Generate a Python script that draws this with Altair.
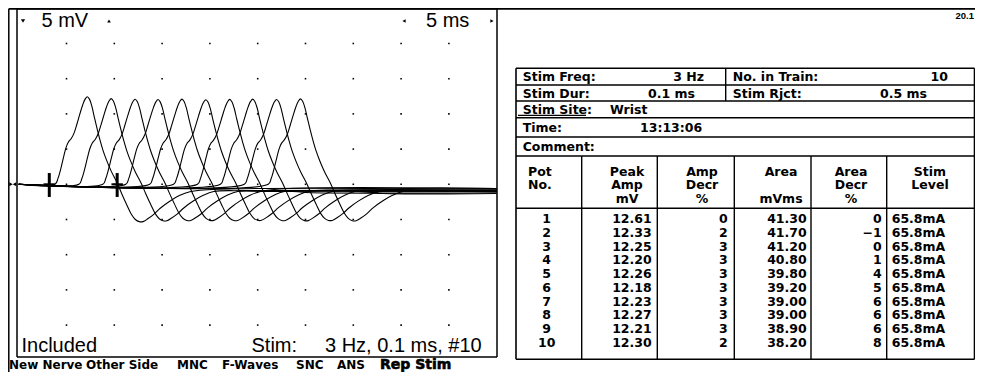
import altair as alt
import pandas as pd

# ---------------- data ----------------
pot_no = [1, 2, 3, 4, 5, 6, 7, 8, 9, 10]
peak_amp = [12.61, 12.33, 12.25, 12.20, 12.26, 12.18, 12.23, 12.27, 12.21, 12.30]
amp_decr = [0, 2, 3, 3, 3, 3, 3, 3, 3, 2]
area = [41.30, 41.70, 41.20, 40.80, 39.80, 39.20, 39.00, 39.00, 38.90, 38.20]
area_decr = [0, -1, 0, 1, 4, 5, 6, 6, 6, 8]
stim_level = ["65.8mA"] * 10

# CMAP shape (ms after onset, mV)
tmpl_t = [0, 0.3, 0.6, 0.9, 1.15, 1.4, 1.7, 2.0, 2.3, 2.6, 2.9, 3.15, 3.38, 3.6, 3.85,
          4.1, 4.4, 4.7, 5.0, 5.4, 5.9, 6.5, 7.0, 7.5, 8.0, 8.4, 8.8, 9.2, 9.7, 10.3,
          11.0, 12.0, 13.0, 14.1]
tmpl_v = [0, 0.8, 2.2, 3.9, 5.2, 6.0, 6.5, 7.3, 8.6, 10.0, 11.3, 12.1, 12.44, 12.1, 11.1,
          9.6, 7.9, 6.3, 4.9, 3.4, 1.8, 0.2, -1.4, -2.9, -4.3, -5.0, -5.3, -5.3, -4.9, -4.3,
          -3.4, -2.4, -1.6, -1.05]
# onset latency of each staggered trace (ms) and late baseline (mV)
onsets = [3.8, 6.3, 8.8, 11.2, 13.7, 16.2, 18.7, 21.1, 23.6, 26.1]
late_base = [-0.7, -0.9, -1.0, -0.6, -1.2, -0.8, -1.0, -1.3, -0.6, -0.9]
cursor_ms = [3.2, 10.3]

grid_ms = [5, 10, 15, 20, 25, 30, 35, 40, 45]
grid_mv = [-20, -15, -10, -5, 0, 5, 10, 15, 20]

menu_items = ["New Nerve", "Other Side", "MNC", "F-Waves", "SNC", "ANS", "Rep Stim"]
info_labels = ["Stim Freq:", "Stim Dur:", "Stim Site:", "Time:", "Comment:"]
info_values = ["3 Hz", "0.1 ms", "Wrist", "13:13:06"]
info_right_labels = ["No. in Train:", "Stim Rjct:"]
info_right_values = ["10", "0.5 ms"]
header_cols = [["Pot", "No.", ""], ["Peak", "Amp", "mV"], ["Amp", "Decr", "%"],
               ["Area", "", "mVms"], ["Area", "Decr", "%"], ["Stim", "Level", ""]]

# ---------------- build tables ----------------
rows = []
for i, on in enumerate(onsets):
    s = peak_amp[i] / peak_amp[0]
    pts = [(0.0, 0.0), (on, 0.0)]
    pts += [(on + t, v * s) for t, v in zip(tmpl_t[1:], tmpl_v[1:])]
    pts += [(on + 17.0, late_base[i]), (50.0, late_base[i])]
    for k, (t, v) in enumerate(pts):
        rows.append({"trace": i + 1, "k": k, "t": t, "v": v})
traces = pd.DataFrame(rows)

grid = pd.DataFrame([{"t": a, "v": b} for a in grid_ms for b in grid_mv])
cur = pd.DataFrame({"t": cursor_ms})
table = pd.DataFrame({"row": pot_no, "pot": [str(p) for p in pot_no], "amp": peak_amp,
                      "adec": amp_decr, "area": area, "ardec": area_decr, "lvl": stim_level})
one = pd.DataFrame({"a": [0]})

OFF = 8  # page margin
xs = alt.Scale(domain=[0, 50], range=[18.7 - OFF, 496.7 - OFF], zero=False, nice=False)
ys = alt.Scale(domain=[-25, 25], range=[360.3 - OFF, 8.3 - OFF], zero=False, nice=False)
rs = alt.Scale(domain=[1, 10], range=[219 - OFF, 343 - OFF], zero=False, nice=False)

layers = []


def seg(x1, y1, x2, y2, w=1.5):
    layers.append(alt.Chart(one).mark_rule(color="black", strokeWidth=w).encode(
        x=alt.value(x1 - OFF), y=alt.value(y1 - OFF), x2=alt.value(x2 - OFF), y2=alt.value(y2 - OFF)))


def box(x1, y1, x2, y2, w=1.5):
    seg(x1, y1, x2, y1, w)
    seg(x1, y2, x2, y2, w)
    seg(x1, y1, x1, y2, w)
    seg(x2, y1, x2, y2, w)


def txt(s, x, y, size, align="left", weight="normal", font="Liberation Sans", sw=0):
    kw = dict(align=align, baseline="middle", font=font, fontSize=size, fontWeight=weight, color="black")
    if sw:
        kw.update(stroke="black", strokeWidth=sw)
    layers.append(alt.Chart(one).mark_text(**kw).encode(
        x=alt.value(x - OFF), y=alt.value(y - OFF), text=alt.value(s)))


def tri(shape, x, y, size):
    layers.append(alt.Chart(one).mark_point(shape=shape, filled=True, size=size, color="black", opacity=1).encode(
        x=alt.value(x - OFF), y=alt.value(y - OFF)))


# ---------------- waveform panel ----------------
seg(8.8, 8.8, 975, 8.8, 1.8)          # top frame line
seg(8.8, 8.8, 8.8, 380, 1.5)          # outer left line
box(17, 8.8, 497, 357, 1.5)           # panel frame
tri("triangle-right", 11, 184.3, 16)
tri("triangle-left", 14.5, 184.3, 16)

layers.append(alt.Chart(grid).mark_square(size=2.5, color="black", opacity=1).encode(
    x=alt.X("t:Q", scale=xs, axis=None), y=alt.Y("v:Q", scale=ys, axis=None)))

layers.append(alt.Chart(traces).mark_line(color="black", strokeWidth=1.1, interpolate="catmull-rom").encode(
    x=alt.X("t:Q", scale=xs, axis=None), y=alt.Y("v:Q", scale=ys, axis=None),
    detail="trace:N", order="k:Q"))

layers.append(alt.Chart(cur).mark_rule(color="black", strokeWidth=3).encode(
    x=alt.X("t:Q", scale=xs, axis=None), y=alt.Y("lo:Q", scale=ys, axis=None), y2="hi:Q"
).transform_calculate(lo="1.6", hi="-1.8"))
layers.append(alt.Chart(cur).mark_rule(color="black", strokeWidth=2).encode(
    x=alt.X("a:Q", scale=xs, axis=None), x2="b:Q", y=alt.Y("z:Q", scale=ys, axis=None)
).transform_calculate(a="datum.t - 0.6", b="datum.t + 0.6", z="0"))

tri("triangle-down", 23, 21, 18)
txt("5 mV", 41.5, 21, 20)
tri("triangle-up", 109, 21, 14)
tri("triangle-left", 404, 21, 14)
txt("5 ms", 426, 21, 20)
tri("triangle-right", 492, 21, 14)

txt("Included", 21.5, 346, 20)
txt("Stim:", 251.5, 346, 20)
txt("3 Hz, 0.1 ms, #10", 325, 346, 20)

menu_x = [9, 86, 177, 222, 296, 337, 380]
for s, x in zip(menu_items, menu_x):
    if s == "Rep Stim":
        txt(s, x, 365, 14, weight="bold", font="DejaVu Sans", sw=0.6)
    else:
        txt(s, x, 365, 12, weight="bold", font="DejaVu Sans")

txt("20.1", 974, 15.5, 9.5, align="right", weight="bold")

# ---------------- info table ----------------
TF = "DejaVu Sans"
TS = 12.5
box(516, 68.3, 974.5, 359.3, 1.6)
for yy in [85, 101, 117.7, 137, 156, 208.3]:
    seg(516, yy, 974.5, yy, 1.4)
seg(725.7, 68.3, 725.7, 101, 1.4)
for xx in [581.7, 657.3, 734.3, 811, 886.7]:
    seg(xx, 156, xx, 359.3, 1.4)
seg(518, 115.3, 586, 115.3, 1.2)

info_y = [77, 93.5, 110, 127.5, 146.5]
for s, y in zip(info_labels, info_y):
    txt(s, 522.7, y, TS, weight="bold", font=TF)
txt(info_values[0], 704, info_y[0], TS, align="right", weight="bold", font=TF)
txt(info_values[1], 648, info_y[1], TS, weight="bold", font=TF)
txt(info_values[2], 610, info_y[2], TS, weight="bold", font=TF)
txt(info_values[3], 640, info_y[3], TS, weight="bold", font=TF)
txt(info_right_labels[0], 732.7, info_y[0], TS, weight="bold", font=TF)
txt(info_right_values[0], 948, info_y[0], TS, align="right", weight="bold", font=TF)
txt(info_right_labels[1], 732.7, info_y[1], TS, weight="bold", font=TF)
txt(info_right_values[1], 880, info_y[1], TS, weight="bold", font=TF)

hdr_x = [528, 627, 702, 781, 851, 930]
hdr_align = ["left", "center", "center", "center", "center", "center"]
hdr_y = [171.5, 185, 199]
for lines, x, al in zip(header_cols, hdr_x, hdr_align):
    for s, y in zip(lines, hdr_y):
        if s:
            txt(s, x, y, TS, align=al, weight="bold", font=TF)


def col(field, x, align, fmt=None):
    enc = dict(x=alt.value(x - OFF), y=alt.Y("row:Q", scale=rs, axis=None))
    enc["text"] = alt.Text(field, format=fmt) if fmt else alt.Text(field)
    layers.append(alt.Chart(table).mark_text(align=align, baseline="middle", font=TF, fontSize=TS,
                                             fontWeight="bold", color="black").encode(**enc))


col("pot:N", 546.7, "center")
col("amp:Q", 651.7, "right", ".2f")
col("adec:Q", 727.7, "right", "d")
col("area:Q", 806.7, "right", ".2f")
col("ardec:Q", 881.7, "right", "d")
col("lvl:N", 891.7, "left")

chart = alt.layer(*layers).properties(
    width=967, height=364, padding=0, autosize="none", background="white"
).resolve_scale(x="independent", y="independent").configure_view(stroke=None)

chart.save("out.html", embed_options={"renderer": "svg", "actions": False})
